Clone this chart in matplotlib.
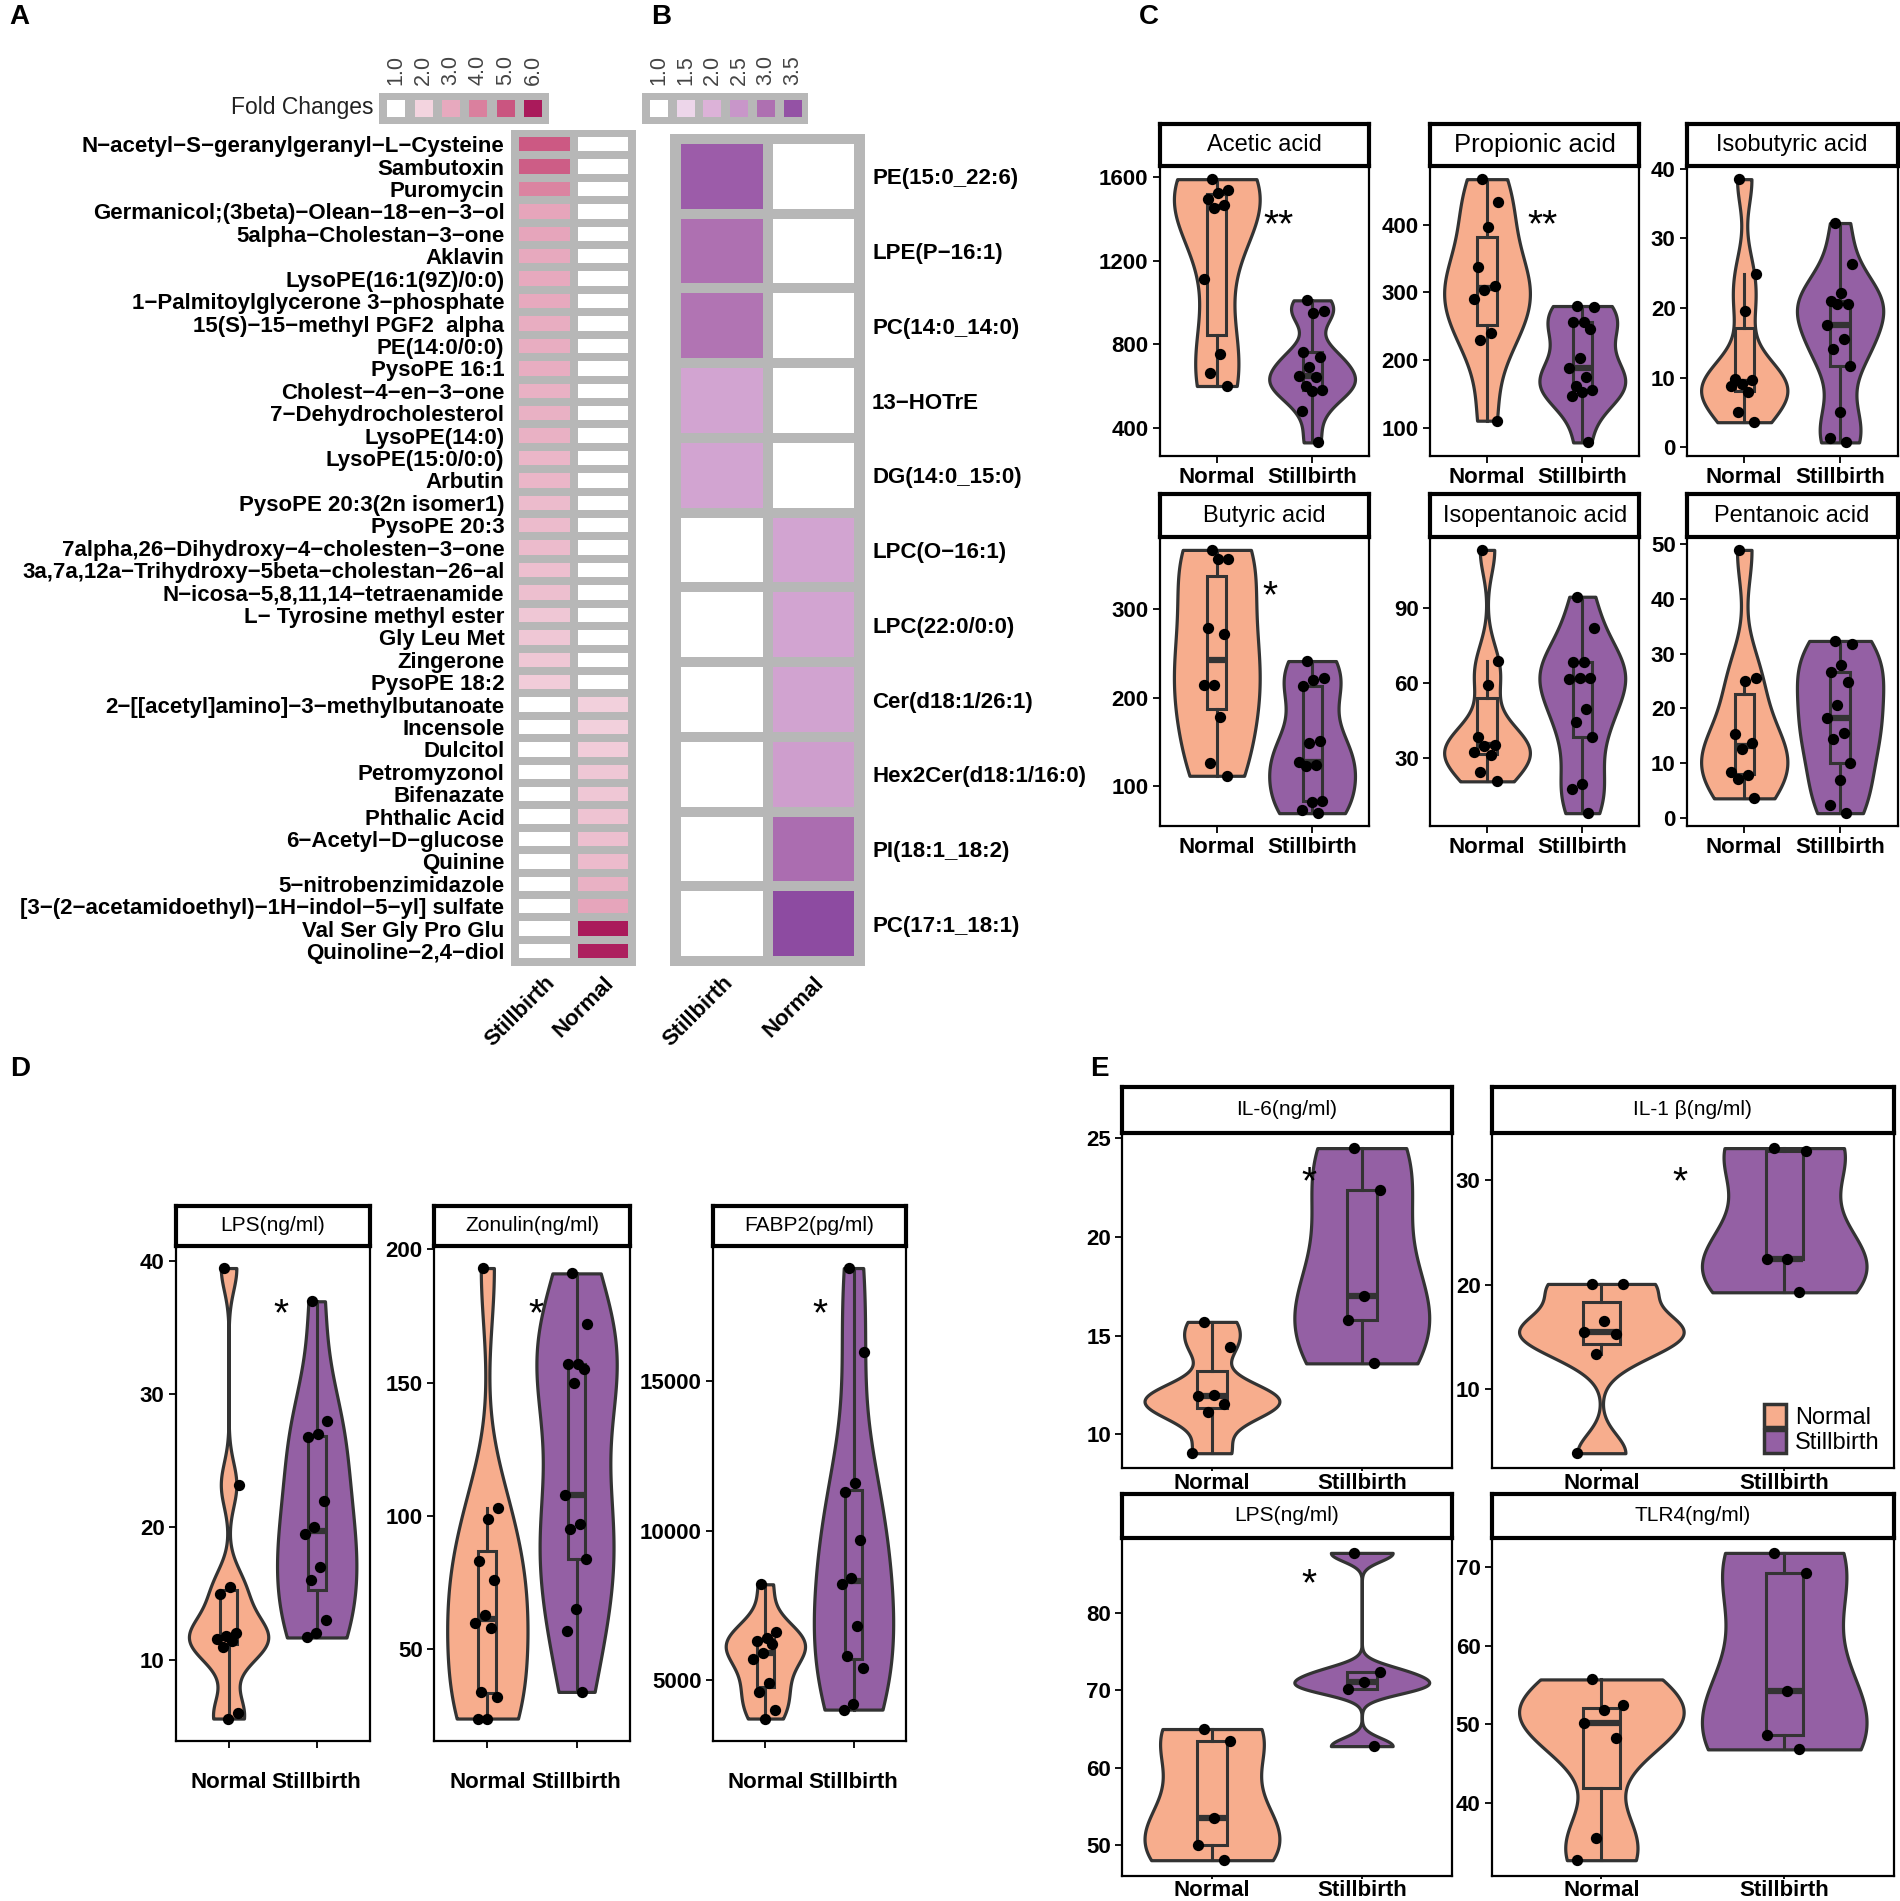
import numpy as np
import matplotlib
matplotlib.use('Agg')
import matplotlib.pyplot as plt
from matplotlib.colors import LinearSegmentedColormap
from matplotlib.patches import Patch

plt.rcParams['font.family'] = ['Liberation Sans', 'DejaVu Sans']

# ---------------------------------------------------------------- data
# panel A : fold changes (Stillbirth / Normal columns)
metab_a = ['N-acetyl-S-geranylgeranyl-L-Cysteine', 'Sambutoxin', 'Puromycin',
           'Germanicol;(3beta)-Olean-18-en-3-ol', '5alpha-Cholestan-3-one', 'Aklavin',
           'LysoPE(16:1(9Z)/0:0)', '1-Palmitoylglycerone 3-phosphate',
           '15(S)-15-methyl PGF2  alpha', 'PE(14:0/0:0)', 'PysoPE 16:1',
           'Cholest-4-en-3-one', '7-Dehydrocholesterol', 'LysoPE(14:0)',
           'LysoPE(15:0/0:0)', 'Arbutin', 'PysoPE 20:3(2n isomer1)', 'PysoPE 20:3',
           '7alpha,26-Dihydroxy-4-cholesten-3-one',
           '3a,7a,12a-Trihydroxy-5beta-cholestan-26-al',
           'N-icosa-5,8,11,14-tetraenamide', 'L- Tyrosine methyl ester', 'Gly Leu Met',
           'Zingerone', 'PysoPE 18:2', '2-[[acetyl]amino]-3-methylbutanoate', 'Incensole',
           'Dulcitol', 'Petromyzonol', 'Bifenazate', 'Phthalic Acid', '6-Acetyl-D-glucose',
           'Quinine', '5-nitrobenzimidazole',
           '[3-(2-acetamidoethyl)-1H-indol-5-yl] sulfate', 'Val Ser Gly Pro Glu',
           'Quinoline-2,4-diol']
fc_a_still = [4.9, 4.8, 3.9, 3.1, 3.1, 3.0, 3.0, 3.0, 2.9, 2.9, 2.9, 2.8, 2.8, 2.8, 2.7,
              2.7, 2.6, 2.6, 2.6, 2.5, 2.5, 2.3, 2.3, 2.3, 2.2,
              1, 1, 1, 1, 1, 1, 1, 1, 1, 1, 1, 1]
fc_a_normal = [1] * 25 + [2.1, 2.1, 2.2, 2.3, 2.3, 2.4, 2.5, 2.6, 2.8, 3.1, 6.0, 5.9]
legend_a = [1.0, 2.0, 3.0, 4.0, 5.0, 6.0]

# panel B
lipid_b = ['PE(15:0_22:6)', 'LPE(P-16:1)', 'PC(14:0_14:0)', '13-HOTrE', 'DG(14:0_15:0)',
           'LPC(O-16:1)', 'LPC(22:0/0:0)', 'Cer(d18:1/26:1)', 'Hex2Cer(d18:1/16:0)',
           'PI(18:1_18:2)', 'PC(17:1_18:1)']
fc_b_still = [3.35, 3.0, 2.95, 2.25, 2.25, 1, 1, 1, 1, 1, 1]
fc_b_normal = [1, 1, 1, 1, 1, 2.25, 2.25, 2.27, 2.35, 3.05, 3.6]
legend_b = [1.0, 1.5, 2.0, 2.5, 3.0, 3.5]

# panel C : short chain fatty acids
acetic_n = [1590, 1540, 1525, 1495, 1465, 1450, 1110, 755, 660, 600]
acetic_s = [1010, 960, 948, 762, 738, 692, 648, 641, 599, 579, 575, 478, 330]
propionic_n = [467, 434, 397, 337, 309, 303, 291, 240, 230, 111]
propionic_s = [280, 279, 257, 256, 246, 204, 188, 175, 162, 156, 154, 147, 79]
isobutyric_n = [38.5, 24.9, 19.6, 9.8, 9.7, 9.1, 8.8, 7.9, 5.1, 3.6]
isobutyric_s = [32.2, 26.3, 22.1, 21.0, 20.6, 20.6, 17.5, 15.5, 14.1, 11.6, 5.0, 1.3, 0.7]
butyric_n = [366, 356, 356, 278, 271, 214, 214, 178, 126, 112]
butyric_s = [241, 222, 220, 213, 151, 149, 128, 124, 123, 84, 82, 73, 70]
isopentanoic_n = [113, 68.6, 59.1, 38.2, 35.2, 34.7, 32.4, 31.3, 24.5, 20.6]
isopentanoic_s = [94.3, 81.9, 68.2, 68.2, 62.0, 61.7, 61.3, 49.6, 44.1, 38.2, 19.6, 17.4, 7.9]
pentanoic_n = [48.9, 25.6, 25.0, 15.3, 13.6, 12.6, 8.4, 7.8, 7.2, 3.6]
pentanoic_s = [32.3, 31.7, 27.9, 26.6, 24.8, 20.6, 18.3, 15.5, 14.5, 10.0, 6.9, 2.3, 0.9]

# panel D : gut barrier markers
lps_d_n = [39.5, 23.2, 15.5, 15.0, 12.0, 11.8, 11.6, 11.4, 11.0, 6.0, 5.6]
lps_d_s = [37.0, 28.0, 27.0, 26.8, 22.0, 20.0, 19.5, 17.0, 16.0, 13.0, 12.0, 11.7]
zonulin_n = [193, 103, 99, 83, 76, 63, 60, 58, 34, 32, 24, 24]
zonulin_s = [191, 172, 157, 157, 155, 150, 108, 97, 95, 84, 65, 57, 34]
fabp2_n = [8200, 6600, 6400, 6300, 6200, 5900, 5700, 4900, 4600, 4000, 3700]
fabp2_s = [18800, 16000, 11600, 11300, 9700, 8400, 8200, 6800, 5800, 5400, 4200, 4000]

# panel E : inflammation markers
il6_n = [15.7, 14.45, 12.0, 11.95, 11.55, 11.15, 9.05]
il6_s = [24.5, 22.4, 17.0, 15.8, 13.6]
il1b_n = [20.1, 20.1, 16.6, 15.5, 15.3, 13.4, 3.9]
il1b_s = [33.1, 32.8, 22.5, 22.5, 19.3]
lps_e_n = [65.0, 63.5, 53.5, 50.0, 48.1]
lps_e_s = [87.7, 72.4, 71.0, 70.2, 62.8]
tlr4_n = [55.7, 52.4, 51.8, 50.2, 48.2, 35.5, 32.7]
tlr4_s = [71.8, 69.2, 54.2, 48.6, 46.8]

groups = ['Normal', 'Stillbirth']

# ---------------------------------------------------------------- style
C_NORMAL = '#F7AD8D'
C_STILL = '#9460A4'
EDGE = '#333333'
GRID = '#B7B7B7'

cmap_a = LinearSegmentedColormap.from_list(
    'fc_a', [(0.0, '#FFFFFF'), (0.2, '#F3D4DF'), (0.4, '#E7A9BE'),
             (0.6, '#DA809E'), (0.8, '#CA5580'), (1.0, '#AA1A5B')])
cmap_b = LinearSegmentedColormap.from_list(
    'fc_b', [(0.0, '#FFFFFF'), (0.5 / 2.7, '#EDD6EA'), (1.0 / 2.7, '#DCB2D8'),
             (1.5 / 2.7, '#C896C9'), (2.0 / 2.7, '#AE70B1'), (2.5 / 2.7, '#9553A5'),
             (1.0, '#86439D')])

W, H = 1568, 1569
fig = plt.figure(figsize=(19, 19.01), dpi=100)


def rect(x0, y0, x1, y1):
    return [x0 / W, 1 - y1 / H, (x1 - x0) / W, (y1 - y0) / H]


def minus(s):
    return s.replace('-', '\u2212')


def bold_ticks(ax, size=16):
    for t in ax.get_xticklabels() + ax.get_yticklabels():
        t.set_fontweight('bold')
        t.set_fontsize(size)


# ---------------------------------------------------------------- heatmaps
def heatmap(box, names, still, normal, cmap, vmax, lw, side, ymargin):
    ax = fig.add_axes(rect(*box))
    vals = np.column_stack([still, normal])
    n = len(names)
    ax.set_facecolor(GRID)
    ax.pcolormesh(vals, cmap=cmap, vmin=1, vmax=vmax, edgecolors=GRID, linewidth=lw)
    ax.set_xlim(-0.07, 2.07)
    ax.set_ylim(n + ymargin, -ymargin)
    ax.set_yticks(np.arange(n) + 0.5, [minus(s) for s in names])
    if side == 'right':
        ax.yaxis.tick_right()
    ax.set_xticks([0.5, 1.5], groups[::-1])
    for t in ax.get_xticklabels():
        t.set_rotation(45)
        t.set_ha('right')
        t.set_rotation_mode('anchor')
    ax.tick_params(length=0, pad=5)
    bold_ticks(ax, 16)
    for s in ax.spines.values():
        s.set_visible(False)
    return ax


heatmap((422, 107, 525, 797), metab_a, fc_a_still, fc_a_normal, cmap_a, 6, 5.5, 'left', 0.15)
heatmap((553, 111, 714, 797), lipid_b, fc_b_still, fc_b_normal, cmap_b, 3.7, 6.0, 'right', 0.06)


def color_key(box, values, cmap, vmax):
    ax = fig.add_axes(rect(*box))
    ax.set_facecolor(GRID)
    ax.scatter(np.arange(len(values)), np.zeros(len(values)), c=values, cmap=cmap,
               vmin=1, vmax=vmax, marker='s', s=165, linewidths=0)
    ax.set_xlim(-0.62, len(values) - 1 + 0.58)
    ax.set_ylim(-1, 1)
    ax.xaxis.tick_top()
    ax.set_xticks(np.arange(len(values)), ['%.1f' % v for v in values],
                  rotation=90, fontsize=15.5, color='#444444')
    ax.set_yticks([])
    ax.tick_params(length=0, pad=6)
    for s in ax.spines.values():
        s.set_visible(False)


color_key((313, 77, 453, 102), legend_a, cmap_a, 6)
color_key((530, 77, 667, 102), legend_b, cmap_b, 3.7)
fig.text(308 / W, 1 - 89 / H, 'Fold Changes', ha='right', va='center', fontsize=16.5,
         color='#222222')


# ---------------------------------------------------------------- violins
def nrd0(v):
    v = np.asarray(v, float)
    q75, q25 = np.percentile(v, [75, 25])
    lo = min(v.std(ddof=1), (q75 - q25) / 1.34)
    if lo <= 0:
        lo = v.std(ddof=1)
    return 0.9 * lo * len(v) ** -0.2


def jitter(n, width=0.14):
    k = (np.arange(n) * 0.6180339887 + 0.31) % 1.0
    return (k * 2 - 1) * width


def facet(xs, strip, py1, title, normal, still, ticks, star=None, star_x=1.6, star_y=0.85,
          strip_fs=17, xpad=3, tlen=5):
    x0, x1 = xs
    sy0, sy1 = strip
    ax = fig.add_axes(rect(x0, sy1, x1, py1))
    st = fig.add_axes(rect(x0, sy0, x1, sy1))
    for pos, vals, col in ((1, normal, C_NORMAL), (2, still, C_STILL)):
        vals = np.asarray(vals, float)
        f = nrd0(vals) / vals.std(ddof=1)
        vp = ax.violinplot(vals, positions=[pos], widths=0.9, showextrema=False,
                           bw_method=f, points=400)
        b = vp['bodies'][0]
        b.set_facecolor(col)
        b.set_edgecolor(EDGE)
        b.set_linewidth(2.3)
        b.set_alpha(1)
        b.set_zorder(1)
    bp = ax.boxplot([normal, still], positions=[1, 2], widths=0.2, showfliers=False,
                    showcaps=False, patch_artist=True, whis=1.5, zorder=2,
                    boxprops=dict(edgecolor=EDGE, linewidth=2.2),
                    whiskerprops=dict(color=EDGE, linewidth=2.2),
                    medianprops=dict(color=EDGE, linewidth=4.5))
    for patch, col in zip(bp['boxes'], (C_NORMAL, C_STILL)):
        patch.set_facecolor(col)
    for pos, vals in ((1, normal), (2, still)):
        vals = np.asarray(vals, float)
        ax.scatter(pos + jitter(len(vals)), vals, s=66, color='black', zorder=3,
                   linewidths=0)
    allv = np.concatenate([normal, still])
    lo, hi = allv.min(), allv.max()
    pad = 0.05 * (hi - lo)
    ax.set_ylim(lo - pad, hi + pad)
    ax.set_xlim(0.4, 2.6)
    ax.set_yticks(ticks)
    ax.set_xticks([1, 2], groups)
    ax.tick_params(direction='out', length=5, width=1.3, pad=3)
    ax.tick_params(axis='x', length=tlen, pad=xpad)
    bold_ticks(ax, 16)
    for s in ax.spines.values():
        s.set_linewidth(1.6)
        s.set_color('black')
    if star:
        ax.text(star_x, star_y, star, transform=ax.get_xaxis_transform(), ha='center',
                va='center', fontsize=28)
    st.set_xticks([])
    st.set_yticks([])
    for s in st.spines.values():
        s.set_linewidth(3)
        s.set_color('black')
    st.text(0.5, 0.5, title, ha='center', va='center', fontsize=strip_fs,
            transform=st.transAxes)
    return ax


# panel C
cx = [(957, 1130), (1180, 1353), (1392, 1566)]
r1 = (102, 137)
r2 = (408, 443)
facet(cx[0], r1, 376, 'Acetic acid', acetic_n, acetic_s, [400, 800, 1200, 1600], '**', 1.65, 0.79)
facet(cx[1], r1, 376, 'Propionic acid', propionic_n, propionic_s, [100, 200, 300, 400],
      '**', 1.58, 0.79, 18.5)
facet(cx[2], r1, 376, 'Isobutyric acid', isobutyric_n, isobutyric_s, [0, 10, 20, 30, 40])
facet(cx[0], r2, 682, 'Butyric acid', butyric_n, butyric_s, [100, 200, 300], '*', 1.56, 0.79)
facet(cx[1], r2, 682, 'Isopentanoic acid', isopentanoic_n, isopentanoic_s, [30, 60, 90])
facet(cx[2], r2, 682, 'Pentanoic acid', pentanoic_n, pentanoic_s, [0, 10, 20, 30, 40, 50])

# panel D
dx = [(145, 305), (358, 520), (588, 748)]
rd = (995, 1028)
facet(dx[0], rd, 1437, 'LPS(ng/ml)', lps_d_n, lps_d_s, [10, 20, 30, 40], '*', 1.6, 0.86,
      15, 17)
facet(dx[1], rd, 1437, 'Zonulin(ng/ml)', zonulin_n, zonulin_s, [50, 100, 150, 200], '*',
      1.55, 0.86, 15, 17)
facet(dx[2], rd, 1437, 'FABP2(pg/ml)', fabp2_n, fabp2_s, [5000, 10000, 15000], '*', 1.62,
      0.86, 15, 17)

# panel E
ex = [(926, 1198), (1231, 1563)]
e1 = (897, 935)
e2 = (1233, 1269)
facet(ex[0], e1, 1212, 'IL-6(ng/ml)', il6_n, il6_s, [10, 15, 20, 25], '*', 1.65, 0.85,
      15, 0.5, 2.5)
axb = facet(ex[1], e1, 1212, 'IL-1 \u03b2(ng/ml)', il1b_n, il1b_s, [10, 20, 30], '*', 1.43,
            0.85, 15, 0.5, 2.5)
facet(ex[0], e2, 1548, 'LPS(ng/ml)', lps_e_n, lps_e_s, [50, 60, 70, 80], '*', 1.65, 0.86,
      15, 0.5, 2.5)
facet(ex[1], e2, 1548, 'TLR4(ng/ml)', tlr4_n, tlr4_s, [40, 50, 60, 70], None,
      strip_fs=15, xpad=0.5, tlen=2.5)
axb.legend(handles=[Patch(facecolor=C_NORMAL, edgecolor=EDGE, linewidth=2.5, label='Normal'),
                    Patch(facecolor=C_STILL, edgecolor=EDGE, linewidth=2.5, label='Stillbirth')],
           loc='lower right', frameon=False, fontsize=17, handlelength=0.9, handleheight=1.1,
           handletextpad=0.4, labelspacing=0.05, borderaxespad=0.2)

# panel letters
for letter, x, y in (('A', 8, 14), ('B', 537, 14), ('C', 940, 14), ('D', 8, 882),
                     ('E', 900, 882)):
    fig.text(x / W, 1 - y / H, letter, fontsize=20, fontweight='bold', va='center')

fig.savefig('out.png', dpi=100, facecolor='white')
